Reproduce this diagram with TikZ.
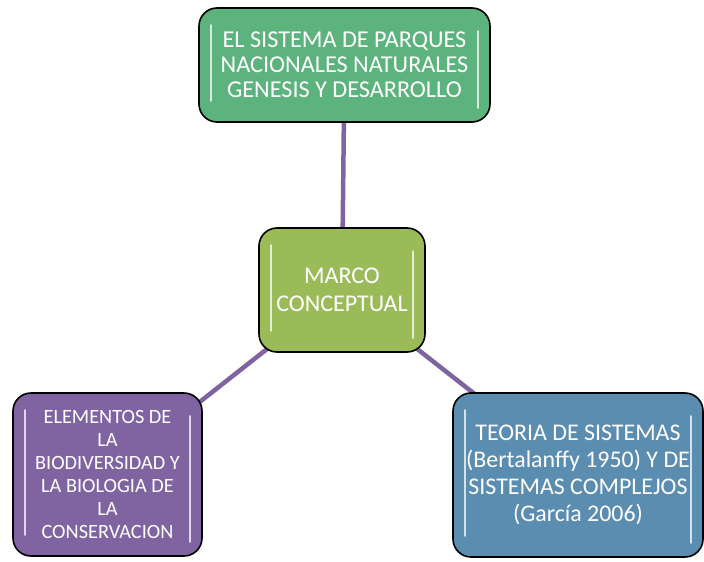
\documentclass[tikz,border=0pt]{standalone}
\usepackage{fontspec}
\setmainfont{Carlito}
\usetikzlibrary{positioning,calc,backgrounds}

\definecolor{boxgreen}{HTML}{5DB37E}
\definecolor{boxolive}{HTML}{9BBB59}
\definecolor{boxpurple}{HTML}{8064A2}
\definecolor{boxblue}{HTML}{5B8DB0}
\definecolor{linkpurple}{HTML}{8064A2}

\begin{document}
\begin{tikzpicture}[x=1pt,y=-1pt,
                    box/.style={rectangle,rounded corners=18pt,draw=black,line width=1.6pt,
                                text=white,align=center,inner sep=0pt},
                    link/.style={draw=linkpurple,line width=4.5pt},
                    shine/.style={white,opacity=0.75,line width=2pt,line cap=round}
                   ]
  \useasboundingbox (0,0) rectangle (704,562);

  \node[box,fill=boxgreen,minimum width=291pt,minimum height=114pt,
        font=\fontsize{24.2}{25}\selectfont] (parques) at (344.5,65)
        {EL SISTEMA DE PARQUES\\NACIONALES NATURALES\\GENESIS Y DESARROLLO};
  \node[box,fill=boxolive,minimum width=166pt,minimum height=124pt,
        font=\fontsize{24}{28}\selectfont] (marco) at (342,290)
        {MARCO\\CONCEPTUAL};
  \node[box,fill=boxpurple,minimum width=189pt,minimum height=163pt,
        font=\fontsize{20.3}{23}\selectfont] (elementos) at (107.5,474.5)
        {ELEMENTOS DE\\LA\\BIODIVERSIDAD Y\\LA BIOLOGIA DE\\LA\\CONSERVACION};
  \node[box,fill=boxblue,minimum width=250pt,minimum height=164pt,
        font=\fontsize{23.9}{27}\selectfont] (teoria) at (578,475)
        {TEORIA DE SISTEMAS\\(Bertalanffy 1950) Y DE\\SISTEMAS COMPLEJOS\\(García 2006)};

  % glossy edges
  \foreach \n in {parques,marco,elementos,teoria}{
    \draw[shine] ($(\n.north west)+(13,18)$) -- ($(\n.south west)+(13,-22)$);
    \draw[shine] ($(\n.north east)+(-13,24)$) -- ($(\n.south east)+(-13,-15)$);
  }

  \begin{pgfonlayer}{background}
    \path (marco.center) edge[link] (parques.center)
                         edge[link] (elementos.center)
                         edge[link] (teoria.center);
  \end{pgfonlayer}
\end{tikzpicture}
\end{document}
